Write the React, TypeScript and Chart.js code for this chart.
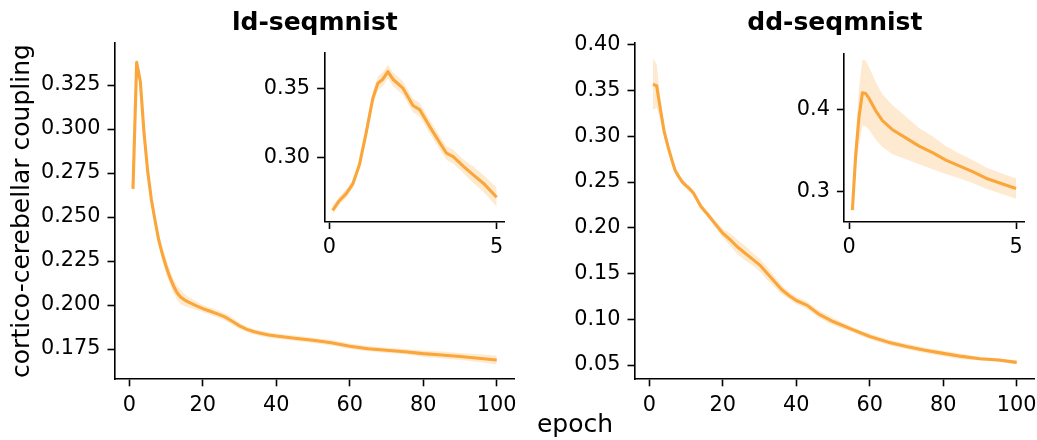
import React, { useEffect, useRef } from "react";
import { Chart, registerables } from "chart.js";

Chart.register(...registerables);

// ---------- data ----------
const ldEpochs = [1, 2, 3, 4, 5, 6, 7, 8, 9, 10, 11, 12, 13, 14, 15, 16, 18, 20, 22, 24, 26, 28, 30, 32, 34, 36, 38, 40, 45, 50, 55, 60, 65, 70, 75, 80, 85, 90, 95, 100];
const ldMean = [0.266, 0.338, 0.327, 0.298, 0.276, 0.26, 0.248, 0.237, 0.229, 0.222, 0.216, 0.211, 0.207, 0.2045, 0.203, 0.2018, 0.1998, 0.198, 0.1965, 0.195, 0.1933, 0.1908, 0.1882, 0.1862, 0.1848, 0.1838, 0.183, 0.1824, 0.1812, 0.18, 0.1786, 0.1766, 0.1752, 0.1743, 0.1735, 0.1724, 0.1716, 0.1708, 0.1698, 0.1688];
const ldStd = [0.003, 0.002, 0.003, 0.003, 0.003, 0.003, 0.003, 0.003, 0.004, 0.004, 0.004, 0.004, 0.004, 0.004, 0.0035, 0.003, 0.0025, 0.002, 0.002, 0.002, 0.002, 0.002, 0.0018, 0.0015, 0.0015, 0.0015, 0.0015, 0.0015, 0.0015, 0.0015, 0.0015, 0.0015, 0.0015, 0.0015, 0.0015, 0.0018, 0.002, 0.002, 0.0022, 0.0025];

const ldInX = [0.1, 0.3, 0.5, 0.7, 0.9, 1.1, 1.3, 1.45, 1.6, 1.75, 1.9, 2.2, 2.5, 2.7, 3.0, 3.3, 3.5, 3.7, 4.0, 4.3, 4.6, 5.0];
const ldInMean = [0.262, 0.269, 0.274, 0.281, 0.295, 0.318, 0.343, 0.354, 0.357, 0.3625, 0.357, 0.3505, 0.338, 0.335, 0.3227, 0.311, 0.3035, 0.301, 0.294, 0.2877, 0.2817, 0.2715];
const ldInStd = [0.003, 0.003, 0.003, 0.003, 0.003, 0.004, 0.005, 0.005, 0.005, 0.005, 0.005, 0.005, 0.005, 0.005, 0.005, 0.005, 0.005, 0.005, 0.005, 0.006, 0.006, 0.007];

const ddEpochs = [1, 2, 3, 4, 5, 6, 7, 8, 9, 10, 11, 12, 13, 14, 16, 18, 20, 22, 24, 26, 28, 30, 32, 34, 36, 38, 40, 43, 46, 50, 55, 60, 65, 70, 75, 80, 85, 90, 95, 100];
const ddMean = [0.357, 0.355, 0.33, 0.306, 0.29, 0.276, 0.263, 0.256, 0.25, 0.246, 0.2425, 0.238, 0.231, 0.2235, 0.214, 0.204, 0.194, 0.187, 0.179, 0.1725, 0.166, 0.1595, 0.1505, 0.1415, 0.1325, 0.126, 0.1205, 0.1152, 0.106, 0.0975, 0.0892, 0.0812, 0.075, 0.0702, 0.0662, 0.0627, 0.0594, 0.0568, 0.0555, 0.0529];
const ddStd = [0.028, 0.024, 0.012, 0.007, 0.005, 0.004, 0.004, 0.003, 0.003, 0.003, 0.003, 0.003, 0.003, 0.003, 0.003, 0.004, 0.005, 0.007, 0.008, 0.008, 0.007, 0.007, 0.007, 0.006, 0.005, 0.004, 0.004, 0.004, 0.004, 0.004, 0.003, 0.003, 0.003, 0.003, 0.003, 0.003, 0.003, 0.002, 0.002, 0.002];

const ddInX = [0.1, 0.2, 0.3, 0.4, 0.5, 0.6, 0.8, 1.0, 1.3, 1.7, 2.1, 2.5, 2.9, 3.3, 3.7, 4.1, 4.6, 5.0];
const ddInMean = [0.277, 0.345, 0.391, 0.42, 0.419, 0.413, 0.398, 0.386, 0.375, 0.365, 0.355, 0.347, 0.338, 0.331, 0.324, 0.316, 0.309, 0.3035];
const ddInStd = [0.005, 0.02, 0.035, 0.04, 0.04, 0.038, 0.035, 0.032, 0.03, 0.026, 0.022, 0.02, 0.017, 0.015, 0.014, 0.013, 0.0125, 0.0125];

const mainXTicks = [0, 20, 40, 60, 80, 100];
const insetXTicks = [0, 5];
const ldYTicks = [0.175, 0.2, 0.225, 0.25, 0.275, 0.3, 0.325];
const ddYTicks = [0.05, 0.1, 0.15, 0.2, 0.25, 0.3, 0.35, 0.4];
const ldInYTicks = [0.3, 0.35];
const ddInYTicks = [0.3, 0.4];

const titles = ["ld-seqmnist", "dd-seqmnist"];
const yLabel = "cortico-cerebellar coupling";
const xLabel = "epoch";

// ---------- style ----------
const CW = 1200;
const CH = 440;
const LINE = "rgb(250,166,58)";
const BAND = "rgba(250,166,58,0.24)";
const FONT = "DejaVu Sans";
const TICK_SIZE = 20.8;
const LABEL_SIZE = 25;

type Spec = {
  xs: number[];
  mean: number[];
  std: number[];
  xr: [number, number];
  yr: [number, number];
  xTicks: number[];
  yTicks: number[];
  yDec: number;
  area: { l: number; r: number; t: number; b: number };
  title?: string;
  yTitle?: string;
  figLabel?: boolean;
};

function makeConfig(s: Spec): any {
  const pts = (f: (i: number) => number) => s.xs.map((x, i) => ({ x, y: f(i) }));
  const axisCommon = {
    grid: { drawOnChartArea: false, drawTicks: true, tickLength: 7.3, tickWidth: 1.6, tickColor: "#000" },
    border: { display: true, color: "#000", width: 1.6 },
  };
  const plugins: any[] = [];
  if (s.figLabel) {
    plugins.push({
      id: "figLabel",
      afterDraw(chart: any) {
        const ctx = chart.ctx;
        ctx.save();
        ctx.fillStyle = "#000";
        ctx.font = `${LABEL_SIZE}px "${FONT}"`;
        ctx.textAlign = "center";
        ctx.textBaseline = "alphabetic";
        ctx.fillText(xLabel, 575, 432);
        ctx.restore();
      },
    });
  }
  const titleLH = LABEL_SIZE * 1.2;
  return {
    type: "line",
    data: {
      datasets: [
        {
          data: pts((i) => s.mean[i]),
          borderColor: LINE,
          borderWidth: 3.1,
          borderJoinStyle: "round",
          pointRadius: 0,
          fill: false,
          tension: 0,
        },
        {
          data: pts((i) => s.mean[i] + s.std[i]),
          borderWidth: 0,
          borderColor: "rgba(0,0,0,0)",
          backgroundColor: BAND,
          pointRadius: 0,
          fill: "+1",
          tension: 0,
        },
        {
          data: pts((i) => s.mean[i] - s.std[i]),
          borderWidth: 0,
          borderColor: "rgba(0,0,0,0)",
          pointRadius: 0,
          fill: false,
          tension: 0,
        },
      ],
    },
    options: {
      animation: false,
      responsive: false,
      devicePixelRatio: 1,
      events: [],
      layout: {
        padding: { left: 0, right: CW - s.area.r, top: s.title ? 0 : s.area.t, bottom: 0 },
      },
      plugins: {
        legend: { display: false },
        tooltip: { enabled: false },
        title: s.title
          ? {
              display: true,
              text: s.title,
              fullSize: false,
              color: "#000",
              font: { family: FONT, size: LABEL_SIZE, weight: "bold", lineHeight: 1.2 },
              padding: { top: 8, bottom: s.area.t - 8 - titleLH },
            }
          : { display: false },
      },
      scales: {
        x: {
          type: "linear",
          min: s.xr[0],
          max: s.xr[1],
          ...axisCommon,
          afterBuildTicks: (sc: any) => {
            sc.ticks = s.xTicks.map((v) => ({ value: v }));
          },
          afterFit: (sc: any) => {
            sc.height = CH - s.area.b;
          },
          ticks: {
            color: "#000",
            font: { family: FONT, size: TICK_SIZE },
            padding: 6.5,
            autoSkip: false,
            maxRotation: 0,
            callback: (v: any) => String(v),
          },
        },
        y: {
          type: "linear",
          min: s.yr[0],
          max: s.yr[1],
          ...axisCommon,
          afterBuildTicks: (sc: any) => {
            sc.ticks = s.yTicks.map((v) => ({ value: v }));
          },
          afterFit: (sc: any) => {
            sc.width = s.area.l;
          },
          title: s.yTitle
            ? {
                display: true,
                text: s.yTitle,
                color: "#000",
                font: { family: FONT, size: LABEL_SIZE, lineHeight: 1.2 },
                padding: { top: 7.5, bottom: 0 },
              }
            : { display: false },
          ticks: {
            color: "#000",
            font: { family: FONT, size: TICK_SIZE },
            padding: 7,
            autoSkip: false,
            callback: (v: any) => Number(v).toFixed(s.yDec),
          },
        },
      },
    },
    plugins,
  };
}

const specs: Spec[] = [
  {
    xs: ldEpochs, mean: ldMean, std: ldStd,
    xr: [-3.95, 104.95], yr: [0.158, 0.3489],
    xTicks: mainXTicks, yTicks: ldYTicks, yDec: 3,
    area: { l: 114.8, r: 514.9, t: 43, b: 379 },
    title: titles[0], yTitle: yLabel,
  },
  {
    xs: ddEpochs, mean: ddMean, std: ddStd,
    xr: [-3.95, 104.95], yr: [0.0347, 0.402],
    xTicks: mainXTicks, yTicks: ddYTicks, yDec: 2,
    area: { l: 634.8, r: 1034.9, t: 43, b: 379 },
    title: titles[1], figLabel: true,
  },
  {
    xs: ldInX, mean: ldInMean, std: ldInStd,
    xr: [-0.145, 5.245], yr: [0.2538, 0.376],
    xTicks: insetXTicks, yTicks: ldInYTicks, yDec: 2,
    area: { l: 324.4, r: 504.9, t: 53, b: 221.7 },
  },
  {
    xs: ddInX, mean: ddInMean, std: ddInStd,
    xr: [-0.145, 5.245], yr: [0.263, 0.468],
    xTicks: insetXTicks, yTicks: ddInYTicks, yDec: 1,
    area: { l: 844.2, r: 1024.2, t: 53.3, b: 221.7 },
  },
];

export default function App() {
  const refs = [useRef<HTMLCanvasElement>(null), useRef<HTMLCanvasElement>(null), useRef<HTMLCanvasElement>(null), useRef<HTMLCanvasElement>(null)];
  useEffect(() => {
    Chart.defaults.font.family = FONT;
    const charts = specs.map((s, i) => new Chart(refs[i].current as HTMLCanvasElement, makeConfig(s)));
    return () => charts.forEach((c) => c.destroy());
  }, []);
  return (
    <div style={{ position: "fixed", left: 0, top: 0, width: 1037, height: 440, overflow: "hidden", background: "#fff" }}>
      {refs.map((r, i) => (
        <canvas
          key={i}
          ref={r}
          width={CW}
          height={CH}
          style={{ position: "absolute", left: 0, top: 0, width: CW, height: CH }}
        />
      ))}
    </div>
  );
}
